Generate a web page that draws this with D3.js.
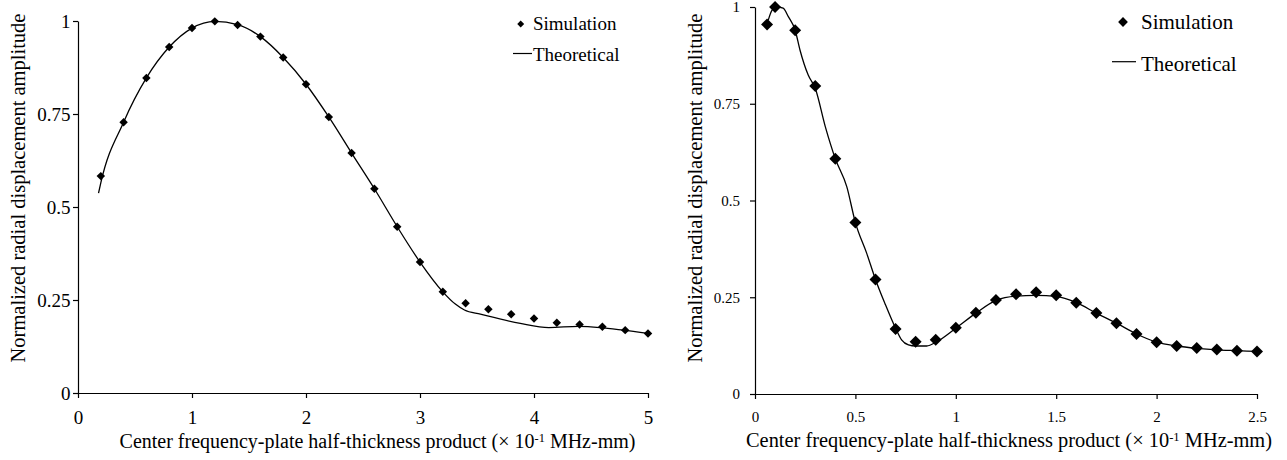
<!DOCTYPE html>
<html>
<head>
<meta charset="utf-8">
<script src="https://cdnjs.cloudflare.com/ajax/libs/d3/7.8.5/d3.min.js"></script>
<style>
  body { margin: 0; background: #fff; }
  svg text { font-family: "Liberation Serif", "Times New Roman", serif; fill: #000; }
</style>
</head>
<body>
<div id="body"></div>
<script>
// ---- left panel data ----
var simX1 = [0.2, 0.4, 0.6, 0.8, 1.0, 1.2, 1.4, 1.6, 1.8, 2.0, 2.2, 2.4, 2.6, 2.8, 3.0, 3.2, 3.4, 3.6, 3.8, 4.0, 4.2, 4.4, 4.6, 4.8, 5.0];
var simY1 = [0.583, 0.728, 0.847, 0.930, 0.981, 0.999, 0.989, 0.958, 0.902, 0.830, 0.742, 0.645, 0.549, 0.447, 0.352, 0.272, 0.241, 0.225, 0.212, 0.200, 0.189, 0.184, 0.178, 0.169, 0.160];
var theoX1 = [0.18, 0.2, 0.4, 0.6, 0.8, 1.0, 1.2, 1.4, 1.6, 1.8, 2.0, 2.2, 2.4, 2.6, 2.8, 3.0, 3.2, 3.31, 3.39, 3.53, 3.88, 4.13, 4.39, 4.58, 4.78, 5.0];
var theoY1 = [0.537, 0.565, 0.728, 0.847, 0.930, 0.981, 0.999, 0.990, 0.958, 0.902, 0.830, 0.742, 0.645, 0.549, 0.447, 0.352, 0.272, 0.239, 0.223, 0.212, 0.187, 0.176, 0.179, 0.176, 0.169, 0.160];
var xTicks1 = [0, 1, 2, 3, 4, 5];
var yTicks1 = [0, 0.25, 0.5, 0.75, 1];

// ---- right panel data ----
var simX2 = [0.06, 0.1, 0.2, 0.3, 0.4, 0.5, 0.6, 0.7, 0.8, 0.9, 1.0, 1.1, 1.2, 1.3, 1.4, 1.5, 1.6, 1.7, 1.8, 1.9, 2.0, 2.1, 2.2, 2.3, 2.4, 2.5];
var simY2 = [0.955, 1.0, 0.940, 0.796, 0.608, 0.443, 0.296, 0.168, 0.135, 0.140, 0.171, 0.210, 0.243, 0.258, 0.263, 0.255, 0.236, 0.209, 0.183, 0.155, 0.134, 0.124, 0.119, 0.115, 0.112, 0.110];
var theoX2 = [0.066, 0.085, 0.108, 0.14, 0.166, 0.2, 0.224, 0.265, 0.3, 0.35, 0.4, 0.457, 0.5, 0.556, 0.6, 0.647, 0.7, 0.73, 0.764, 0.8, 0.855, 0.905, 1.0, 1.1, 1.2, 1.3, 1.4, 1.5, 1.6, 1.7, 1.8, 1.9, 2.0, 2.1, 2.2, 2.3, 2.4, 2.5];
var theoY2 = [0.966, 0.992, 1.0, 0.997, 0.975, 0.940, 0.889, 0.824, 0.790, 0.691, 0.608, 0.536, 0.443, 0.364, 0.296, 0.234, 0.170, 0.140, 0.127, 0.124, 0.124, 0.135, 0.170, 0.209, 0.242, 0.253, 0.255, 0.252, 0.236, 0.209, 0.183, 0.155, 0.134, 0.124, 0.118, 0.114, 0.112, 0.110];
var xTicks2 = [0, 0.5, 1, 1.5, 2, 2.5];
var yTicks2 = [0, 0.25, 0.5, 0.75, 1];

var legendLabels = ["Simulation", "Theoretical"];
var yTitle = "Normalized radial displacement amplitude";
var serif = '"Liberation Serif", "Times New Roman", serif';

var svg = d3.select("#body")
  .append("svg")
  .attr("width", 1287)
  .attr("height", 460);

function drawPanel(p) {
  var x = d3.scaleLinear().domain([0, p.xMax]).range([p.left, p.right]);
  var y = d3.scaleLinear().domain([0, 1]).range([p.bottom, p.top]);

  var xAxis = d3.axisBottom(x).tickValues(p.xTicks).tickSize(5).tickSizeOuter(0)
    .tickPadding(p.xPad).tickFormat(function(d) { return String(d); });
  var yAxis = d3.axisLeft(y).tickValues(p.yTicks).tickSize(5).tickSizeOuter(0)
    .tickPadding(p.yPad).tickFormat(function(d) { return String(d); });

  var gx = svg.append("g")
    .attr("transform", "translate(0," + p.bottom + ")")
    .call(xAxis);
  var gy = svg.append("g")
    .attr("transform", "translate(" + p.left + ",0)")
    .call(yAxis);

  [gx, gy].forEach(function(g) {
    g.attr("font-family", serif).attr("font-size", p.tickFont);
    g.selectAll("path, line").attr("stroke", "#000").attr("stroke-width", 1.2);
    g.selectAll("text")
      .style("font-family", serif)
      .style("font-size", p.tickFont + "px");
  });

  // theoretical curve
  var line = d3.line()
    .x(function(d) { return x(d[0]); })
    .y(function(d) { return y(d[1]); })
    .curve(d3.curveMonotoneX);

  svg.append("path")
    .datum(d3.zip(p.theoX, p.theoY))
    .attr("d", line)
    .attr("fill", "none")
    .attr("stroke", "#000")
    .attr("stroke-width", 1.3);

  // simulation diamonds
  var sym = d3.symbol().type(d3.symbolSquare).size(p.markSize);
  svg.selectAll(null)
    .data(d3.zip(p.simX, p.simY))
    .enter().append("path")
    .attr("d", sym)
    .attr("transform", function(d) {
      return "translate(" + x(d[0]) + "," + y(d[1]) + ") rotate(45)";
    })
    .attr("fill", "#000");

  // axis titles
  svg.append("text")
    .attr("transform", "translate(" + p.yTitleX + "," + p.yTitleY + ") rotate(-90)")
    .attr("text-anchor", "middle")
    .style("font-size", p.titleFont + "px")
    .text(yTitle);

  var xt = svg.append("text")
    .attr("x", p.xTitleX)
    .attr("y", p.xTitleY)
    .attr("text-anchor", "middle")
    .style("font-size", p.xTitleFont + "px");
  xt.append("tspan").text("Center frequency-plate half-thickness product (\u00d7 10");
  xt.append("tspan").attr("dy", "-0.45em").style("font-size", "0.62em").text("-1");
  xt.append("tspan").attr("dy", "0.28em").text(" MHz-mm)");

  // legend
  var lg = svg.append("g");
  lg.append("path")
    .attr("d", d3.symbol().type(d3.symbolSquare).size(p.legMark))
    .attr("transform", "translate(" + p.legDiamondX + "," + p.legY1 + ") rotate(45)")
    .attr("fill", "#000");
  lg.append("text")
    .attr("x", p.legTextX)
    .attr("y", p.legY1 + p.legFont * 0.33)
    .style("font-size", p.legFont + "px")
    .text(legendLabels[0]);
  lg.append("line")
    .attr("x1", p.legLine[0]).attr("x2", p.legLine[1])
    .attr("y1", p.legY2).attr("y2", p.legY2)
    .attr("stroke", "#000").attr("stroke-width", 1.2);
  lg.append("text")
    .attr("x", p.legTextX)
    .attr("y", p.legY2 + p.legFont * 0.42)
    .style("font-size", p.legFont + "px")
    .text(legendLabels[1]);
}

drawPanel({
  left: 78, right: 648, top: 21, bottom: 393, xMax: 5,
  xTicks: xTicks1, yTicks: yTicks1,
  simX: simX1, simY: simY1, theoX: theoX1, theoY: theoY1,
  tickFont: 19, xPad: 13, yPad: 2.5, markSize: 36,
  titleFont: 20.5, yTitleX: 25, yTitleY: 188,
  xTitleFont: 20, xTitleX: 377.5, xTitleY: 448,
  legMark: 24, legDiamondX: 520.7, legY1: 24, legTextX: 533, legFont: 19,
  legLine: [513, 532], legY2: 53.5
});

drawPanel({
  left: 755, right: 1257, top: 7, bottom: 394, xMax: 2.5,
  xTicks: xTicks2, yTicks: yTicks2,
  simX: simX2, simY: simY2, theoX: theoX2, theoY: theoY2,
  tickFont: 15, xPad: 12, yPad: 10, markSize: 72,
  titleFont: 20.5, yTitleX: 702, yTitleY: 188,
  xTitleFont: 20.4, xTitleX: 1009, xTitleY: 447,
  legMark: 48, legDiamondX: 1123, legY1: 22, legTextX: 1141, legFont: 21,
  legLine: [1112, 1136], legY2: 61.7
});
</script>
</body>
</html>
